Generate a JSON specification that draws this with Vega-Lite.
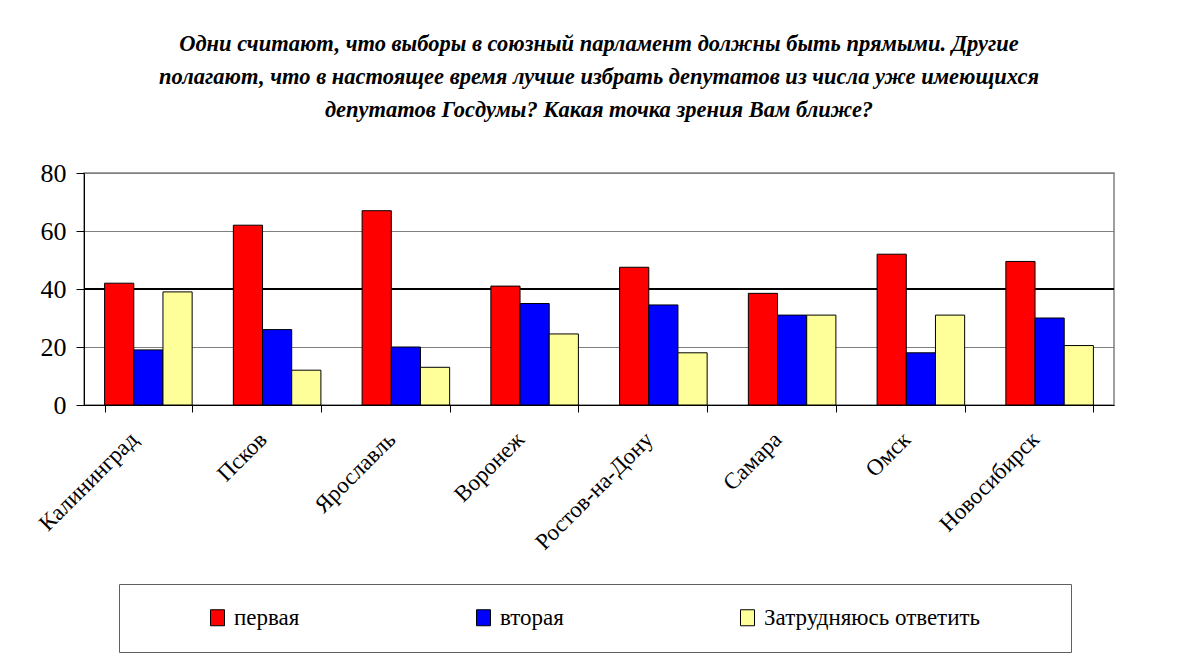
{
  "$schema": "https://vega.github.io/schema/vega-lite/v6.json",
  "width": 1030,
  "height": 232,
  "autosize": "none",
  "padding": {"left": 84, "top": 173, "right": 63, "bottom": 254},
  "background": "white",
  "title": {
    "text": ["Одни считают, что выборы в союзный парламент должны быть прямыми. Другие", "полагают, что в настоящее время  лучше избрать депутатов из числа уже имеющихся", "депутатов Госдумы? Какая точка зрения Вам ближе?"],
    "font": "Liberation Serif",
    "fontSize": 22.5,
    "fontStyle": "italic",
    "fontWeight": "bold",
    "color": "black",
    "anchor": "middle",
    "lineHeight": 33,
    "offset": 39
  },
  "data": {
    "values": [
      {"city": "Калининград", "series": "первая", "value": 42},
      {"city": "Калининград", "series": "вторая", "value": 19},
      {"city": "Калининград", "series": "Затрудняюсь ответить", "value": 39},
      {"city": "Псков", "series": "первая", "value": 62},
      {"city": "Псков", "series": "вторая", "value": 26},
      {"city": "Псков", "series": "Затрудняюсь ответить", "value": 12},
      {"city": "Ярославль", "series": "первая", "value": 67},
      {"city": "Ярославль", "series": "вторая", "value": 20},
      {"city": "Ярославль", "series": "Затрудняюсь ответить", "value": 13},
      {"city": "Воронеж", "series": "первая", "value": 41},
      {"city": "Воронеж", "series": "вторая", "value": 35},
      {"city": "Воронеж", "series": "Затрудняюсь ответить", "value": 24.5},
      {"city": "Ростов-на-Дону", "series": "первая", "value": 47.5},
      {"city": "Ростов-на-Дону", "series": "вторая", "value": 34.5},
      {"city": "Ростов-на-Дону", "series": "Затрудняюсь ответить", "value": 18},
      {"city": "Самара", "series": "первая", "value": 38.5},
      {"city": "Самара", "series": "вторая", "value": 31},
      {"city": "Самара", "series": "Затрудняюсь ответить", "value": 31},
      {"city": "Омск", "series": "первая", "value": 52},
      {"city": "Омск", "series": "вторая", "value": 18},
      {"city": "Омск", "series": "Затрудняюсь ответить", "value": 31},
      {"city": "Новосибирск", "series": "первая", "value": 49.5},
      {"city": "Новосибирск", "series": "вторая", "value": 30},
      {"city": "Новосибирск", "series": "Затрудняюсь ответить", "value": 20.5}
    ]
  },
  "layer": [
    {
      "mark": {"type": "rule", "color": "black", "strokeWidth": 1},
      "encoding": {"y": {"datum": 40, "type": "quantitative"}}
    },
    {
      "mark": {"type": "bar", "stroke": "black", "strokeWidth": 1},
      "encoding": {
        "x": {
          "field": "city",
          "type": "nominal",
          "sort": null,
          "scale": {"paddingInner": 0.32, "paddingOuter": 0.16},
          "axis": {
            "title": null,
            "tickBand": "extent",
            "labelAngle": -45,
            "labelAlign": "right",
            "labelBaseline": "bottom",
            "labelFont": "Liberation Serif",
            "labelFontSize": 23,
            "labelColor": "black",
            "labelPadding": 32,
            "labelOffset": -6,
            "tickSize": 7,
            "tickColor": "black",
            "domainColor": "black",
            "grid": false
          }
        },
        "xOffset": {
          "field": "series",
          "type": "nominal",
          "sort": ["первая", "вторая", "Затрудняюсь ответить"]
        },
        "y": {
          "field": "value",
          "type": "quantitative",
          "scale": {"domain": [0, 80]},
          "axis": {
            "title": null,
            "values": [0, 20, 40, 60, 80],
            "labelFont": "Liberation Serif",
            "labelFontSize": 26,
            "labelColor": "black",
            "labelPadding": 10,
            "tickSize": 8,
            "tickColor": "black",
            "domainColor": "black",
            "grid": true,
            "gridColor": "#808080",
            "gridOpacity": 1
          }
        },
        "color": {
          "field": "series",
          "type": "nominal",
          "scale": {
            "domain": ["первая", "вторая", "Затрудняюсь ответить"],
            "range": ["#FF0000", "#0000FF", "#FFFF99"]
          },
          "legend": {
            "title": " ",
            "titleOrient": "left",
            "titlePadding": 65,
            "orient": "none",
            "legendX": 35,
            "legendY": 411,
            "direction": "horizontal",
            "columns": 3,
            "columnPadding": 172,
            "padding": 22,
            "strokeColor": "#606060",
            "symbolType": "M-0.875,-1H0.875V1H-0.875Z",
            "symbolSize": 256,
            "symbolStrokeColor": "black",
            "symbolStrokeWidth": 1,
            "symbolOpacity": 1,
            "labelFont": "Liberation Serif",
            "labelFontSize": 23,
            "labelColor": "black",
            "labelOffset": 5,
            "labelLimit": 500,
            "labelExpr": "datum.label === 'Затрудняюсь ответить' ? datum.label + '\u2800\u2800\u2800\u2800' : datum.label"
          }
        }
      }
    }
  ],
  "config": {
    "view": {"stroke": "#808080", "strokeWidth": 1.5},
    "axis": {"domainWidth": 1, "tickWidth": 1}
  }
}
